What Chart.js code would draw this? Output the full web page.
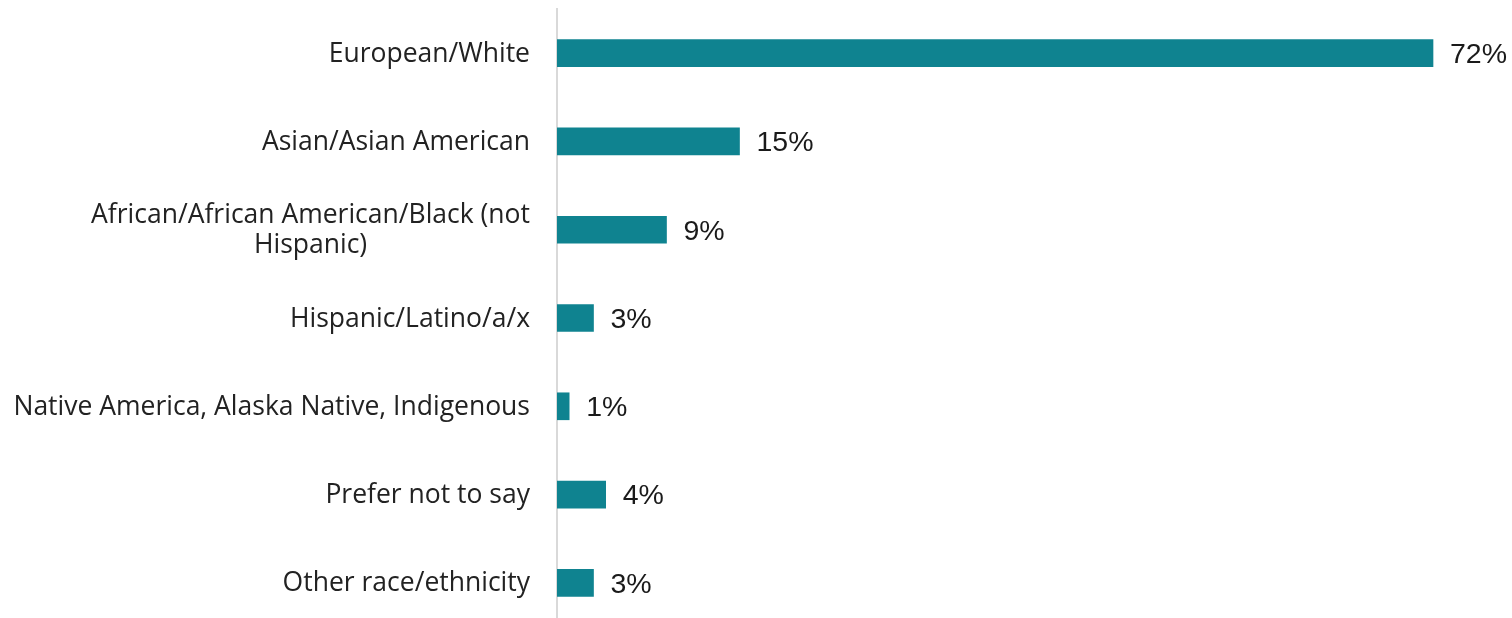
<!DOCTYPE html>
<html>
<head>
<meta charset="utf-8">
<script src="https://cdn.jsdelivr.net/npm/chart.js@4"></script>
<style>
  html, body { margin: 0; padding: 0; background: #fff; overflow: hidden; }
  #wrap { width: 1512px; height: 627px; position: relative; }
</style>
</head>
<body>
<div id="wrap"><canvas id="barChart"></canvas></div>
<script>
const categories = [
  "European/White",
  "Asian/Asian American",
  ["African/African American/Black (not", "Hispanic)"],
  "Hispanic/Latino/a/x",
  "Native America, Alaska Native, Indigenous",
  "Prefer not to say",
  "Other race/ethnicity"
];
const shares = [72, 15, 9, 3, 1, 4, 3];
const valueLabels = ["72%", "15%", "9%", "3%", "1%", "4%", "3%"];

const barColor = "#0f8390";
const catFont = "26.5px 'Open Sans', sans-serif";
const lineGap = 30;

// category labels: right aligned block, wrapped lines centred inside it
const catLabelPlugin = {
  id: "catLabels",
  afterDraw(chart) {
    const ctx = chart.ctx;
    const y = chart.scales.y;
    const right = y.right - 27;
    ctx.save();
    ctx.font = catFont;
    ctx.fillStyle = "#222";
    ctx.textBaseline = "middle";
    categories.forEach((lab, i) => {
      const cy = y.getPixelForTick(i);
      const lines = Array.isArray(lab) ? lab : [lab];
      const blockW = Math.max(...lines.map(l => ctx.measureText(l).width));
      const cx = right - blockW / 2;
      ctx.textAlign = lines.length > 1 ? "center" : "right";
      lines.forEach((l, k) => {
        const ly = cy + (k - (lines.length - 1) / 2) * lineGap + 1;
        ctx.fillText(l, lines.length > 1 ? cx : right, ly);
      });
    });
    ctx.restore();
  }
};

// draws the "72%" style labels right of each bar
const valueLabelPlugin = {
  id: "valueLabels",
  afterDatasetsDraw(chart) {
    const ctx = chart.ctx;
    const meta = chart.getDatasetMeta(0);
    ctx.save();
    ctx.font = "28.5px 'Liberation Sans', Arial, sans-serif";
    ctx.fillStyle = "#1a1a1a";
    ctx.textAlign = "left";
    ctx.textBaseline = "middle";
    meta.data.forEach((bar, i) => {
      ctx.fillText(valueLabels[i], bar.x + 17, bar.y + 2);
    });
    ctx.restore();
  }
};

new Chart(document.getElementById("barChart"), {
  type: "bar",
  data: {
    labels: categories,
    datasets: [{
      data: shares,
      backgroundColor: barColor,
      barThickness: 27,
      borderWidth: 0
    }]
  },
  options: {
    indexAxis: "y",
    responsive: true,
    maintainAspectRatio: false,
    animation: false,
    layout: { padding: { top: 9, right: 6, bottom: 0, left: 0 } },
    plugins: {
      legend: { display: false },
      tooltip: { enabled: false }
    },
    scales: {
      x: {
        display: false,
        min: 0,
        max: 78
      },
      y: {
        afterFit(scale) {
          scale.width = 557;
          scale.paddingTop = 0;
          scale.paddingBottom = 0;
        },
        grid: { display: false, drawTicks: false },
        border: { display: true, color: "#d9d9d9", width: 2 },
        ticks: { display: false }
      }
    }
  },
  plugins: [valueLabelPlugin, catLabelPlugin]
});
</script>
</body>
</html>
